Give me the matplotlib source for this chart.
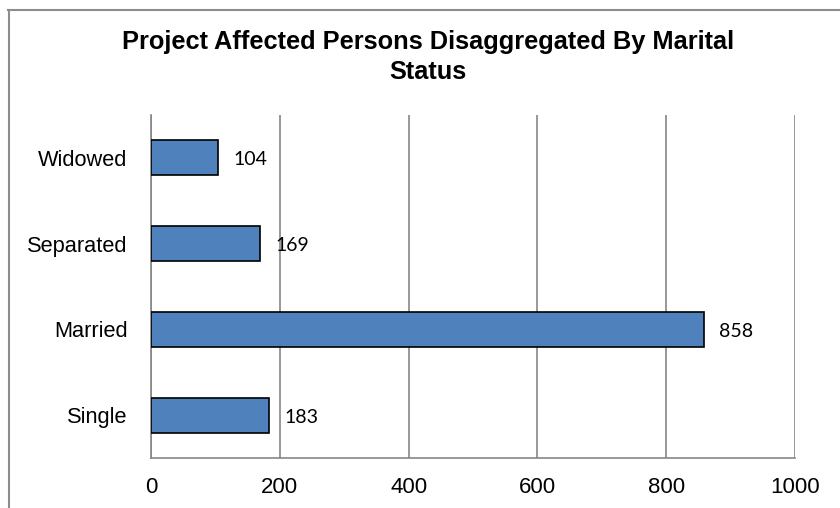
import matplotlib
matplotlib.use("Agg")
import matplotlib.pyplot as plt
from matplotlib.lines import Line2D

categories = ["Single", "Married", "Separated", "Widowed"]
values = [183, 858, 169, 104]
xticks = [0, 200, 400, 600, 800, 1000]
title = "Project Affected Persons Disaggregated By Marital\nStatus"

W, H = 840, 508
fig = plt.figure(figsize=(W / 100, H / 100), dpi=100)
ax = fig.add_axes([151 / W, (H - 458) / H, 644 / W, 343 / H])

pos = list(range(len(categories)))
ax.barh(pos, values, height=0.41, color="#4F81BD", edgecolor="black", linewidth=1.2, zorder=3)
ax.set_xlim(0, 1000)
ax.set_ylim(-0.5, len(categories) - 0.5)
ax.set_xticks(xticks)
ax.set_xticklabels([str(t) for t in xticks], fontsize=16, family="Liberation Sans")
ax.set_yticks(pos)
ax.set_yticklabels(categories, fontsize=15.7, family="Liberation Sans")
ax.tick_params(axis="both", length=0)
ax.tick_params(axis="x", pad=14)
ax.tick_params(axis="y", pad=17)
ax.xaxis.grid(True, color="#868686", linewidth=1.2, zorder=0)
for s in ["top", "right"]:
    ax.spines[s].set_visible(False)
for s in ["left", "bottom"]:
    ax.spines[s].set_color("#868686")
    ax.spines[s].set_linewidth(1.2)

for p, v in zip(pos, values):
    ax.annotate(str(v), xy=(v, p), xytext=(11, -1.5), textcoords="offset points",
                ha="left", va="center", fontsize=14, family="Lato")

fig.text(428 / W, 1 - 30 / H, title, ha="center", va="top", fontsize=18.3,
         fontweight="bold", family="Liberation Sans", linespacing=1.3)

fig.add_artist(Line2D([8 / W, 1], [1 - 9.5 / H, 1 - 9.5 / H], transform=fig.transFigure,
                      color="#8c8c8c", linewidth=1.5))
fig.add_artist(Line2D([8.5 / W, 8.5 / W], [0, 1 - 9.5 / H], transform=fig.transFigure,
                      color="#8c8c8c", linewidth=1.5))

fig.savefig("out.png", dpi=100)
